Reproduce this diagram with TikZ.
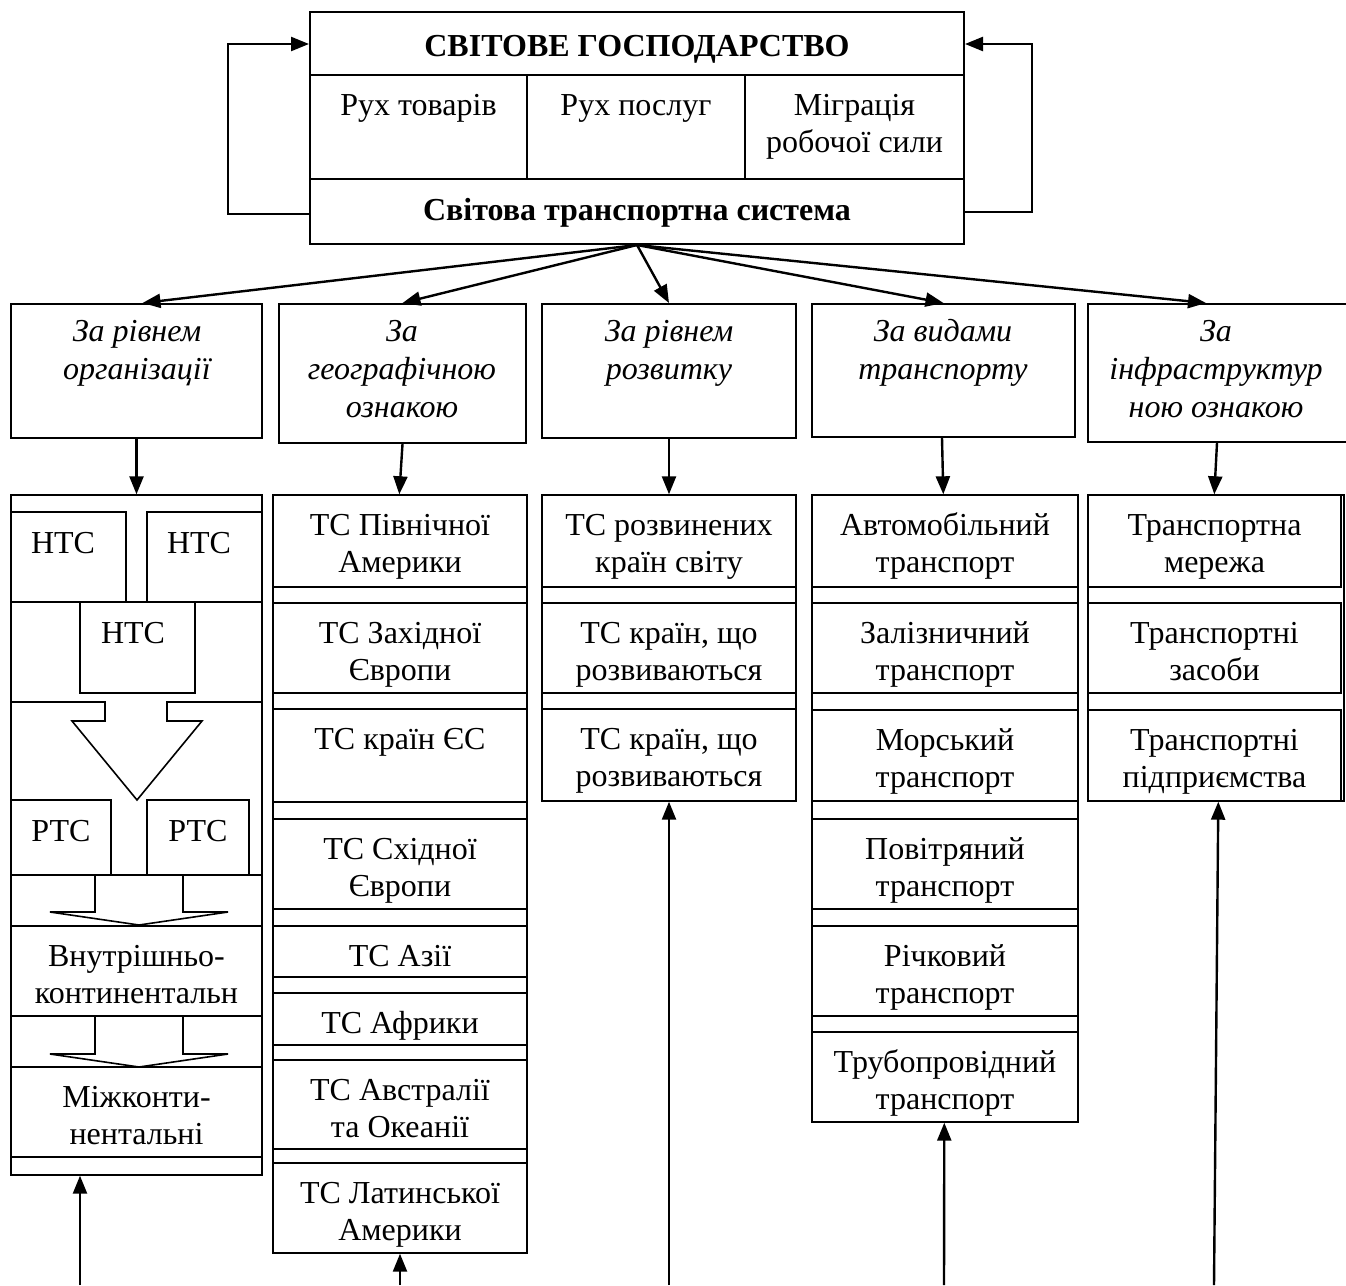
\documentclass[tikz,border=0pt]{standalone}
\usepackage{fontspec}
\setmainfont{Liberation Serif}
\usetikzlibrary{arrows.meta,fit,calc}
\begin{document}
\begin{tikzpicture}[x=1pt,y=-1pt,
  frame/.style={draw, line width=1.4pt, inner sep=0pt},
  bx/.style={draw, line width=2pt, inner sep=0pt, fill=white},
  txt/.style={inner sep=0pt, anchor=base, font=\fontsize{32}{37}\selectfont},
  bf/.style={txt, font=\fontsize{32}{37}\selectfont\bfseries},
  it/.style={txt, font=\fontsize{32}{37}\selectfont\itshape},
  arr/.style={line width=2.4pt, -{Triangle[length=18pt,width=14pt]}},
  inner/.style={line width=1.6pt, line join=miter}]

\useasboundingbox (0,0) rectangle (1346,1285);
\fill[white] (0,0) rectangle (1346,1285);

% ---------- macros
\newcommand\onebox[6]{%
  \node[bx, fit={(#2,#3) (#4,#5)}] (#1) {};
  \node[txt] (#1-a) at ({(#2+#4)/2},#3+40) {#6};}
\newcommand\twobox[7]{%
  \node[bx, fit={(#2,#3) (#4,#5)}] (#1) {};
  \node[txt] (#1-a) at ({(#2+#4)/2},#3+40) {#6};
  \node[txt] (#1-b) at ({(#2+#4)/2},#3+77) {#7};}

% ---------- top block
\node[bx, fit={(310,12) (964,75)}] (title) {};
\node[bx, fit={(310,75) (527,179)}] (goods) {};
\node[bx, fit={(527,75) (745,179)}] (serv) {};
\node[bx, fit={(745,75) (964,179)}] (migr) {};
\node[bx, fit={(310,179) (964,244)}] (wts) {};
\node[bf] (title-t) at (637,56) {СВІТОВЕ ГОСПОДАРСТВО};
\node[txt] (goods-t) at (418.5,115) {Рух товарів};
\node[txt] (serv-t) at (636,115) {Рух послуг};
\node[txt] (migr-a) at (854.5,115) {Міграція};
\node[txt] (migr-b) at (854.5,152) {робочої сили};
\node[bf] (wts-t) at (637,220) {Світова транспортна система};

% feedback loops
\coordinate (lb) at (228,214);
\coordinate (lt) at (228,44);
\coordinate (rb) at (1032,212);
\coordinate (rt) at (1032,44);
\draw[arr] (wts.west |- lb) -- (lb) -- (lt) -- (title.west |- lt);
\draw[arr] (wts.east |- rb) -- (rb) -- (rt) -- (title.east |- rt);

% ---------- category boxes
\node[bx, fit={(11,304) (262,438)}] (c1) {};
\node[bx, fit={(279,304) (526,443)}] (c2) {};
\node[bx, fit={(542,304) (796,438)}] (c3) {};
\node[bx, fit={(812,304) (1075,437)}] (c4) {};
\node[bx, fit={(1088,304) (1356,442)}] (c5) {};
\node[it] (c1-a) at (137,341) {За рівнем};
\node[it] (c1-b) at (137,379) {організації};
\node[it] (c2-a) at (402,341) {За};
\node[it] (c2-b) at (402,379) {географічною};
\node[it] (c2-c) at (402,417) {ознакою};
\node[it] (c3-a) at (669,341) {За рівнем};
\node[it] (c3-b) at (669,379) {розвитку};
\node[it] (c4-a) at (943,341) {За видами};
\node[it] (c4-b) at (943,379) {транспорту};
\node[it] (c5-a) at (1216,341) {За};
\node[it] (c5-b) at (1216,379) {інфраструктур};
\node[it] (c5-c) at (1216,417) {ною ознакою};

\draw[arr] (wts.south) -- ($(c1.north)+(6,0)$);
\draw[arr] (wts.south) -- (c2.north);
\draw[arr] (wts.south) -- (c3.north);
\draw[arr] (wts.south) -- (c4.north);
\draw[arr] (wts.south) -- ($(c5.north west)+(119,0)$);

% ---------- column frames
\node[frame, fit={(11,495) (262,1175)}] (col1) {};
\node[frame, fit={(273,495) (527,1253)}] (col2) {};
\node[frame, fit={(542,495) (796,801)}] (col3) {};
\node[frame, fit={(812,495) (1078,1122)}] (col4) {};
\node[frame, fit={(1088,495) (1344,801)}] (col5) {};

\draw[arr] (c1.south) -- (col1.north);
\draw[arr] (c2.south) -- ($(col2.north west)+(127,0)$);
\draw[arr] (c3.south) -- (col3.north);
\draw[arr] ($(c4.south west)+(131,0)$) -- ($(col4.north west)+(132,0)$);
\draw[arr] ($(c5.south west)+(130,0)$) -- ($(col5.north west)+(127,0)$);

% ---------- column 1 : organisation level
\node[bx, fit={(11,512) (126,602)}] (n1) {};
\node[bx, fit={(147,512) (262,602)}] (n2) {};
\node[bx, fit={(80,602) (195,693)}] (n3) {};
\draw[inner] (11,602) -- (262,602);
\node[txt] (n1-t) at (63,553) {НТС};
\node[txt] (n2-t) at (199,553) {НТС};
\node[txt] (n3-t) at (133,643) {НТС};
\draw[inner] (11,702) -- (105,702) -- (105,721) -- (72,721) -- (137,800)
  -- (202,721) -- (167,721) -- (167,702) -- (262,702);
\node[bx, fit={(11,800) (111,875)}] (r1) {};
\node[bx, fit={(147,800) (249,875)}] (r2) {};
\node[txt] (r1-t) at (61,841) {РТС};
\node[txt] (r2-t) at (198,841) {РТС};
\draw[inner] (11,875) -- (262,875);
\draw[inner] (95,875) -- (95,912) -- (50,912) -- (139,925) -- (228,912) -- (183,912) -- (183,875);
\twobox{ic}{11}{926}{262}{1016}{Внутрішньо-}{континентальн}
\draw[inner] (95,1016) -- (95,1054) -- (50,1054) -- (139,1067) -- (228,1054) -- (183,1054) -- (183,1016);
\twobox{mc}{11}{1067}{262}{1157}{Міжконти-}{нентальні}

% ---------- column 2 : geography
\twobox{g1}{273}{495}{527}{587}{ТС Північної}{Америки}
\twobox{g2}{273}{603}{527}{693}{ТС Західної}{Європи}
\onebox{g3}{273}{709}{527}{802}{ТС країн ЄС}
\twobox{g4}{273}{819}{527}{909}{ТС Східної}{Європи}
\onebox{g5}{273}{926}{527}{977}{ТС Азії}
\onebox{g6}{273}{993}{527}{1045}{ТС Африки}
\twobox{g7}{273}{1060}{527}{1149}{ТС Австралії}{та Океанії}
\twobox{g8}{273}{1163}{527}{1253}{ТС Латинської}{Америки}

% ---------- column 3 : development
\twobox{d1}{542}{495}{796}{587}{ТС розвинених}{країн світу}
\twobox{d2}{542}{603}{796}{693}{ТС країн, що}{розвиваються}
\twobox{d3}{542}{709}{796}{801}{ТС країн, що}{розвиваються}

% ---------- column 4 : transport types
\twobox{t1}{812}{495}{1078}{587}{Автомобільний}{транспорт}
\twobox{t2}{812}{603}{1078}{693}{Залізничний}{транспорт}
\twobox{t3}{812}{710}{1078}{801}{Морський}{транспорт}
\twobox{t4}{812}{819}{1078}{909}{Повітряний}{транспорт}
\twobox{t5}{812}{926}{1078}{1016}{Річковий}{транспорт}
\twobox{t6}{812}{1032}{1078}{1122}{Трубопровідний}{транспорт}

% ---------- column 5 : infrastructure
\twobox{i1}{1088}{495}{1341}{587}{Транспортна}{мережа}
\twobox{i2}{1088}{603}{1341}{693}{Транспортні}{засоби}
\twobox{i3}{1088}{710}{1341}{801}{Транспортні}{підприємства}

% ---------- incoming arrows from below
\coordinate (b1) at (80,1285);
\coordinate (b2) at (400,1285);
\coordinate (b3) at (669,1285);
\coordinate (b4) at (944,1285);
\coordinate (b5) at (1214,1285);
\draw[arr] (b1) -- (col1.south -| b1);
\draw[arr] (b2) -- (col2.south -| b2);
\draw[arr] (b3) -- (col3.south -| b3);
\draw[arr] (b4) -- ($(col4.south west)+(133,0)$);
\draw[arr] (b5) -- ($(col5.south west)+(131,0)$);
\end{tikzpicture}
\end{document}
